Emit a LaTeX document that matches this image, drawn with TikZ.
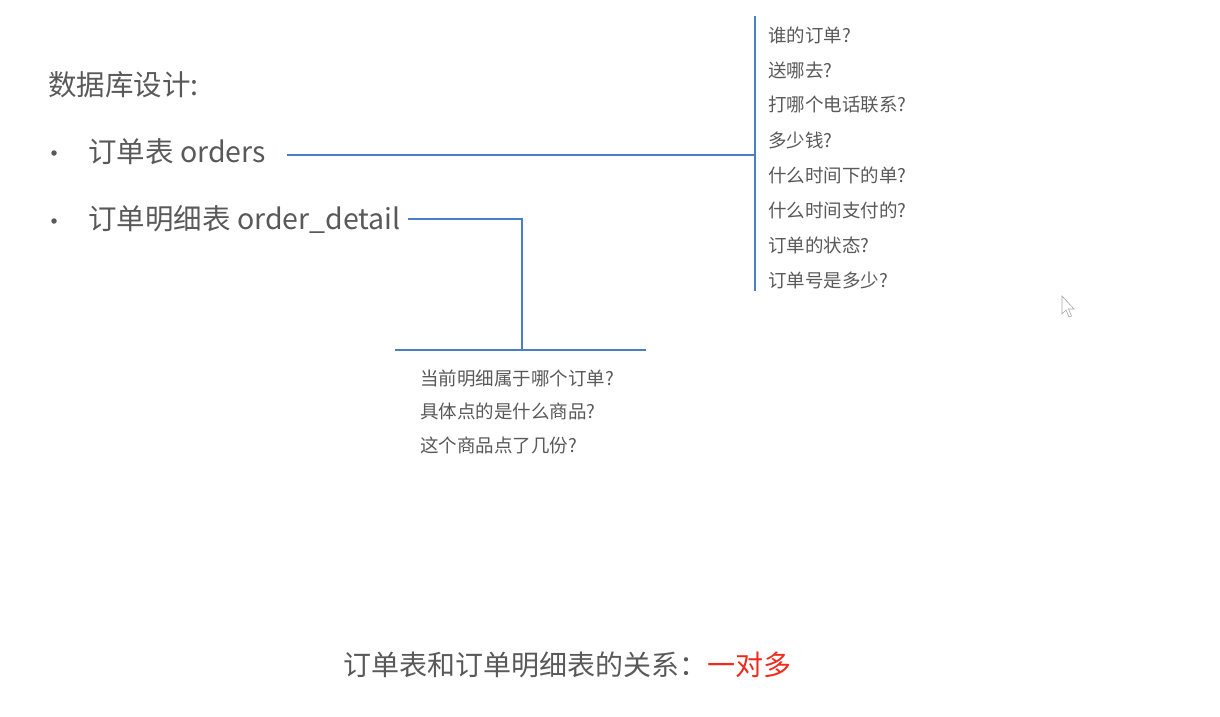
\documentclass[tikz,border=0pt]{standalone}
\usepackage{fontspec}
\setmainfont{Noto Sans CJK SC}
\usetikzlibrary{positioning}

\definecolor{txtgray}{HTML}{595959}
\definecolor{linkblue}{HTML}{4A7EC5}
\definecolor{manyred}{HTML}{EE2B1F}

\begin{document}
\begin{tikzpicture}[x=1pt,y=-1pt,
    txt/.style={anchor=west, inner sep=0pt, text=txtgray},
    big/.style={txt, font=\fontsize{28.5}{32}\selectfont},
    small/.style={txt, font=\fontsize{18.5}{20}\selectfont},
    dot/.style={circle, fill=txtgray, inner sep=0pt, minimum size=5.5pt},
    link/.style={draw=linkblue, line width=1.6pt}]
    \useasboundingbox (0,0) rectangle (1220,717);

    % left side: tables
    \node[big] (design) at (48,85) {数据库设计:};
    \node[dot] (b1) at (54,153) {};
    \node[dot] (b2) at (54,221) {};
    \node[big] (orders) at (88,152) {订单表 orders};
    \node[big] (detail) at (88,219) {订单明细表 order\_detail};

    % orders questions
    \coordinate (bustop) at (755,16);
    \coordinate (busbot) at (755,291);
    \coordinate (ostart) at (287,155);
    \coordinate (ojoin) at (755,155);
    \draw[link] (bustop) -- (busbot);
    \draw[link] (ostart) -- (ojoin);
    \foreach \q [count=\i] in {谁的订单?, 送哪去?, 打哪个电话联系?, 多少钱?,
        什么时间下的单?, 什么时间支付的?, 订单的状态?, 订单号是多少?}
        \node[small] (q\i) at (768,{35+35*(\i-1)}) {\q};

    % order_detail questions
    \coordinate (dstart) at (408,219);
    \coordinate (dturn) at (522,219);
    \coordinate (djoin) at (522,350);
    \coordinate (dleft) at (395,350);
    \coordinate (dright) at (646,350);
    \draw[link] (dstart) -- (dturn) -- (djoin);
    \draw[link] (dleft) -- (dright);
    \foreach \q [count=\i] in {当前明细属于哪个订单?, 具体点的是什么商品?, 这个商品点了几份?}
        \node[small] (d\i) at (420,{378+33.5*(\i-1)}) {\q};

    % relation
    \node[txt, font=\fontsize{28}{30}\selectfont] (rel) at (343,665) {订单表和订单明细表的关系：};
    \node[txt, font=\fontsize{28}{30}\selectfont, text=manyred, right=0pt of rel] (many) {一对多};

    % mouse pointer
    \draw[gray!70, fill=white, line width=0.6pt] (1062,296) -- (1062,314) -- (1066,310)
        -- (1069,317) -- (1071.5,316) -- (1068.5,309) -- (1074,309) -- cycle;
\end{tikzpicture}
\end{document}
